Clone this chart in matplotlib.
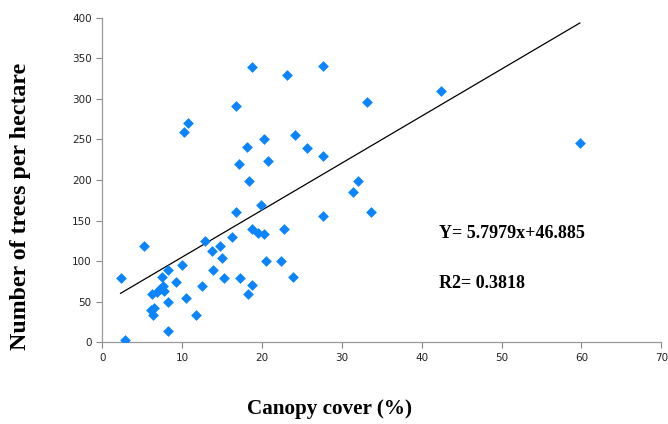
import matplotlib
matplotlib.use("Agg")
import matplotlib.pyplot as plt
import numpy as np

canopy = [2.3, 2.9, 5.2, 6.2, 6.1, 6.3, 6.5, 6.8, 7.2, 7.5, 7.6, 7.75, 8.2, 8.3, 8.3,
          9.3, 10.0, 10.2, 10.8, 10.5, 11.7, 12.5, 12.9, 13.7, 13.9, 14.7, 15.0, 15.25,
          16.3, 16.75, 16.75, 17.1, 17.2, 18.1, 18.2, 18.4, 18.8, 18.8, 18.8, 19.5, 19.9,
          20.2, 20.3, 20.5, 20.75, 22.8, 22.4, 23.1, 23.9, 24.2, 25.6, 27.6, 27.6, 27.7,
          31.4, 32.0, 33.2, 33.7, 42.4, 59.8]
trees = [79, 3, 118, 60, 40, 33, 42, 62, 66, 80, 69, 63, 89, 49, 14,
         74, 95, 259, 270, 54, 34, 69, 125, 113, 89, 119, 104, 79,
         130, 291, 160, 220, 79, 241, 59, 199, 339, 139, 70, 135, 169,
         134, 250, 100, 224, 139, 100, 330, 80, 255, 240, 340, 229, 155,
         185, 199, 296, 160, 310, 245]

slope = 5.7979
intercept = 46.885
r2 = 0.3818

xticks = [0, 10, 20, 30, 40, 50, 60, 70]
yticks = [0, 50, 100, 150, 200, 250, 300, 350, 400]

fig = plt.figure(figsize=(6.68, 4.24), dpi=100)
ax = fig.add_axes([0.153, 0.193, 0.837, 0.765])

ax.scatter(canopy, trees, marker='D', s=30, color='#0A84FF', zorder=3, linewidths=0)
xl = np.array([min(canopy), max(canopy)])
ax.plot(xl, slope * xl + intercept, color='black', lw=0.9, zorder=2)

ax.set_xlim(0, 70)
ax.set_ylim(0, 400)
ax.set_xticks(xticks)
ax.set_yticks(yticks)
ax.tick_params(axis='both', labelsize=7.5, colors='#888888', labelcolor='#222222',
               length=4, width=0.8, direction='out')
for s in ['top', 'right']:
    ax.spines[s].set_visible(False)
for s in ['left', 'bottom']:
    ax.spines[s].set_color('#999999')
    ax.spines[s].set_linewidth(0.9)

serif = ['Liberation Serif', 'DejaVu Serif']
ax.text(42.2, 134, f"Y= {slope}x+{intercept}", fontsize=13, fontweight='bold',
        family=serif, va='center', ha='left')
ax.text(42.2, 72, f"R2= {r2}", fontsize=13, fontweight='bold',
        family=serif, va='center', ha='left')

fig.text(0.494, 0.036, "Canopy cover (%)", fontsize=15.2, fontweight='bold',
         family=serif, ha='center', va='center')
fig.text(0.031, 0.514, "Number of trees per hectare", fontsize=17.2, fontweight='bold',
         family=serif, ha='center', va='center', rotation=90)

fig.savefig("out.png", dpi=100)
